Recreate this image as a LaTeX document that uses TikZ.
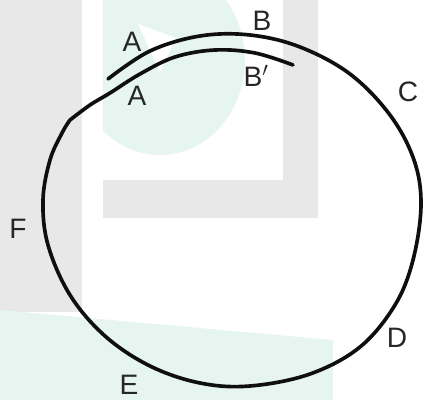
\documentclass[tikz,border=0pt]{standalone}
\usepackage{fontspec}
\setmainfont{Liberation Sans}
\usepackage{tikz}
\usetikzlibrary{positioning}

\definecolor{wmgrey}{RGB}{232,232,232}
\definecolor{wmgreen}{RGB}{230,245,239}
\definecolor{inkline}{RGB}{15,15,15}

\begin{document}
\begin{tikzpicture}[x=0.025cm, y=-0.025cm,
        curve/.style={draw=inkline, line width=2.6pt, line cap=round, line join=round},
        lbl/.style={inner sep=0pt, font=\fontsize{20}{24}\selectfont, text=black!85},
      ]
      \useasboundingbox (0,0) rectangle (424,400);
      % Background watermark
      \begin{scope}
        \clip (103,0) rectangle (283,180);
        \fill [wmgreen] (160,60) ellipse [x radius=85, y radius=95];
      \end{scope}
      \fill [white] (138,24) -- (176,38) -- (160,72) -- cycle;
      \fill [wmgrey] (0,0) rectangle (82,312);
      \fill [wmgrey] (283,0) rectangle (318,218);
      \fill [wmgrey] (103,180) rectangle (318,218);
      \fill [wmgreen] (0,310) -- (333,340) -- (333,400) -- (0,400) -- cycle;
      % Closed loop with overlap at the top
      \draw [curve] plot [smooth, tension=0.6] coordinates {(108,79) (150,51) (200,36) (250,35) (300,47) (350,74) (390,115) (414,160) (421,205) (413,260) (395,305) (360,347) (310,374) (250,386) (200,383) (150,366) (105,336) (70,295) (48,245) (43,200) (50,160) (62,133) (70,120)}
        -- plot [smooth, tension=0.6] coordinates {(70,120) (90,105) (110,93) (140,74) (175,57) (215,50) (255,53) (293,65)};
      % Labels
      \node [lbl] (A1) at (132,42) {A};
      \node [lbl] (A2) at (137,96) {A};
      \node [lbl] (B1) at (262,21) {B};
      \node [lbl] (B2) at (253,76) {B\rlap{$^{\prime}$}};
      \node [lbl] (C) at (408,92) {C};
      \node [lbl] (D) at (397,338) {D};
      \node [lbl] (E) at (129,385) {E};
      \node [lbl] (F) at (18,229) {F};
    \end{tikzpicture}
\end{document}
